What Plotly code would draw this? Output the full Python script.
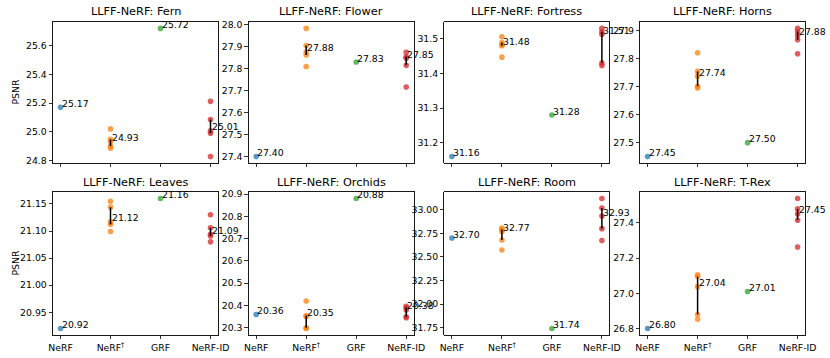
import numpy as np
import plotly.graph_objects as go

scenes = ["Fern", "Flower", "Fortress", "Horns", "Leaves", "Orchids", "Room", "T-Rex"]
methods = ["NeRF", "NeRF<sup>†</sup>", "GRF", "NeRF-ID"]

nerf = [25.17, 27.40, 31.16, 27.45, 20.92, 20.36, 32.70, 26.80]
grf = [25.72, 27.83, 31.28, 27.50, 21.16, 20.88, 31.74, 27.01]

nerf_dagger_runs = [
    [25.02, 24.947, 24.93, 24.90, 24.885],
    [27.983, 27.905, 27.876, 27.862, 27.81],
    [31.506, 31.489, 31.482, 31.48, 31.447],
    [27.822, 27.755, 27.738, 27.702, 27.696],
    [21.155, 21.144, 21.117, 21.112, 21.099],
    [20.42, 20.355, 20.35, 20.30, 20.297],
    [32.805, 32.79, 32.77, 32.68, 32.574],
    [27.105, 27.095, 27.038, 26.88, 26.853],
]
nerf_id_runs = [
    [25.212, 25.085, 25.006, 24.99, 24.827],
    [27.874, 27.854, 27.847, 27.815, 27.716],
    [31.53, 31.52, 31.513, 31.43, 31.423],
    [27.909, 27.898, 27.884, 27.868, 27.818],
    [21.13, 21.106, 21.094, 21.091, 21.08],
    [20.397, 20.39, 20.38, 20.35, 20.345],
    [33.12, 33.018, 32.933, 32.80, 32.673],
    [27.539, 27.48, 27.451, 27.415, 27.263],
]

ytick_step = [0.2, 0.1, 0.1, 0.1, 0.05, 0.1, 0.25, 0.2]
ytick_fmt = [".1f", ".1f", ".1f", ".1f", ".2f", ".1f", ".2f", ".1f"]

colors = ["#1f77b4", "#ff7f0e", "#2ca02c", "#d62728"]

W, H = 830, 358
FONT = "DejaVu Sans"
col_left = [53, 248.7, 444.4, 640.1]
col_w = 165
rows = [(22, 163), (192, 335)]

def px(x):
    return x / W

def py(y):
    return 1 - y / H

fig = go.Figure()
layout = dict(
    width=W, height=H, margin=dict(l=0, r=0, t=0, b=0, pad=0, autoexpand=False),
    paper_bgcolor="white", plot_bgcolor="white", showlegend=False,
    font=dict(family=FONT, size=9.3, color="black"),
)
annotations = []

for k, scene in enumerate(scenes):
    r, c = divmod(k, 4)
    ax = "" if k == 0 else str(k + 1)
    xa, ya = "x" + ax, "y" + ax
    x0, x1 = col_left[c], col_left[c] + col_w
    y0, y1 = rows[r]

    dag = np.array(nerf_dagger_runs[k])
    nid = np.array(nerf_id_runs[k])
    allv = np.concatenate([[nerf[k], grf[k]], dag, nid])
    lo, hi = allv.min(), allv.max()
    pad = 0.05 * (hi - lo)

    groups = [
        (0, np.array([nerf[k]])),
        (1, dag),
        (2, np.array([grf[k]])),
        (3, nid),
    ]
    for i, vals in groups:
        fig.add_trace(go.Scatter(
            x=[i] * len(vals), y=vals, mode="markers", xaxis=xa, yaxis=ya,
            marker=dict(color=colors[i], size=5.6, opacity=0.75, line=dict(width=0)),
            hoverinfo="skip"))
    for i, vals in [(1, dag), (3, nid)]:
        q1, q3 = np.percentile(vals, [25, 75])
        fig.add_trace(go.Scatter(
            x=[i, i], y=[q1, q3], mode="lines", xaxis=xa, yaxis=ya,
            line=dict(color="black", width=1.5), hoverinfo="skip"))
    for i, vals in groups:
        m = float(np.median(vals))
        annotations.append(dict(
            x=i, y=m, xref=xa, yref=ya, text=f"{m:.2f}", showarrow=False,
            xanchor="left", yanchor="bottom", xshift=-1, yshift=-3.5,
            font=dict(family=FONT, size=9.3, color="black")))

    layout["xaxis" + ax] = dict(
        domain=[px(x0), px(x1)], anchor=ya, range=[-0.15, 3.15],
        tickmode="array", tickvals=[0, 1, 2, 3], ticktext=methods,
        showticklabels=(r == 1),
        ticks="outside", ticklen=3.5, tickwidth=0.8, tickcolor="black",
        showline=True, mirror=True, linecolor="black", linewidth=0.9,
        showgrid=False, zeroline=False, automargin=False,
        tickfont=dict(family=FONT, size=9.3, color="black"))
    layout["yaxis" + ax] = dict(
        domain=[py(y1), py(y0)], anchor=xa, range=[lo - pad, hi + pad],
        dtick=ytick_step[k], tick0=0, tickformat=ytick_fmt[k],
        ticks="outside", ticklen=3.5, tickwidth=0.8, tickcolor="black",
        showline=True, mirror=True, linecolor="black", linewidth=0.9,
        showgrid=False, zeroline=False, automargin=False,
        tickfont=dict(family=FONT, size=9.3, color="black"))

    annotations.append(dict(
        x=px((x0 + x1) / 2), y=py(y0 - 10), xref="paper", yref="paper",
        text=f"LLFF-NeRF: {scene}", showarrow=False, xanchor="center", yanchor="middle",
        font=dict(family=FONT, size=11.3, color="black")))

for (y0, y1) in rows:
    annotations.append(dict(
        x=px(15), y=py((y0 + y1) / 2), xref="paper", yref="paper",
        text="PSNR", textangle=-90, showarrow=False, xanchor="center", yanchor="middle",
        font=dict(family=FONT, size=9.3, color="black")))

layout["annotations"] = annotations
fig.update_layout(**layout)
fig.write_html(
    "out.html",
    config={"displayModeBar": False, "staticPlot": True},
    post_script="document.body.style.margin='0px';document.body.style.overflow='hidden';",
)
